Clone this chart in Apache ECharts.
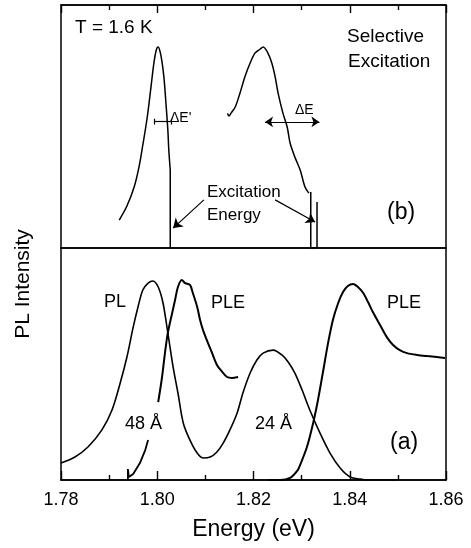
<!DOCTYPE html>
<html>
<head>
<meta charset="utf-8">
<title>PL / PLE selective excitation</title>
<script src="https://cdn.jsdelivr.net/npm/echarts@6.0.0/dist/echarts.min.js"></script>
<style>
  html, body { margin: 0; padding: 0; background: #fff; }
  #chart { width: 471px; height: 548px; }
</style>
</head>
<body>
<div id="chart"></div>
<script>
// tick labels on the energy axis
const tickLabels = ['1.78', '1.80', '1.82', '1.84', '1.86']

// (b) selective excitation - 48 A well
const selPL48E = [1.7921, 1.7937, 1.7952, 1.7962, 1.7970, 1.7979, 1.7987, 1.7993, 1.7998, 1.8002, 1.8006, 1.8010, 1.8014, 1.8018, 1.8022, 1.8024, 1.8027]
const selPL48I = [11.5, 17.3, 25.1, 33.3, 42.4, 53.5, 66.3, 76.1, 81.5, 82.7, 80.7, 76.5, 70.0, 59.7, 48.6, 40.3, 32.1]
const laser48E = [1.8027, 1.8027]
const laser48I = [32.1, 0]

// (b) selective excitation - 24 A well
const selPL24E = [1.8146, 1.8149, 1.8153, 1.8162, 1.8172, 1.8182, 1.8193, 1.8203, 1.8214, 1.8220, 1.8230, 1.8238, 1.8245, 1.8251, 1.8261, 1.8270, 1.8276, 1.8286, 1.8297, 1.8307, 1.8315]
const selPL24I = [55.4, 54.3, 55.4, 58.0, 63.8, 70.4, 76.1, 80.2, 81.9, 82.7, 80.2, 76.1, 70.4, 63.8, 55.6, 49.8, 43.2, 37.4, 32.1, 25.1, 22.6]
const laser24E = [1.8319, 1.8319, 1.8332, 1.8332]
const laser24I = [23.0, 0, 0, 18.9]

// (a) PL (both wells)
const plE = [1.7800, 1.7829, 1.7856, 1.7885, 1.7906, 1.7923, 1.7937, 1.7950, 1.7960, 1.7970, 1.7981, 1.7991, 1.8002, 1.8012, 1.8022, 1.8033, 1.8043, 1.8054, 1.8068, 1.8083, 1.8095, 1.8110, 1.8124, 1.8137, 1.8151, 1.8166, 1.8178, 1.8193, 1.8207, 1.8220, 1.8241, 1.8259, 1.8272, 1.8286, 1.8301, 1.8317, 1.8338, 1.8359, 1.8380, 1.8401, 1.8421, 1.8436, 1.8498]
const plI = [7.3, 9.9, 14.2, 21.6, 30.2, 41.8, 53.0, 65.9, 74.6, 81.9, 84.9, 85.8, 83.2, 76.3, 63.4, 48.7, 37.5, 24.6, 17.2, 11.6, 9.5, 9.9, 12.1, 15.9, 21.6, 28.9, 37.5, 46.1, 51.7, 54.7, 56.0, 53.9, 50.9, 46.1, 38.8, 30.2, 20.3, 11.6, 5.2, 1.3, 0.4, 0, 0]

// (a) PLE 48 A (interrupted under the label)
const ple48LowE = [1.7939, 1.7939, 1.7941, 1.7950, 1.7964, 1.7975, 1.7981]
const ple48LowI = [0, 4.7, 1.3, 2.6, 7.3, 12.9, 17.2]
const ple48HighE = [1.8002, 1.8010, 1.8016, 1.8022, 1.8031, 1.8037, 1.8043, 1.8051, 1.8058, 1.8068, 1.8074, 1.8083, 1.8089, 1.8095, 1.8103, 1.8114, 1.8124, 1.8135, 1.8145, 1.8155, 1.8168]
const ple48HighI = [33.6, 44.4, 54.7, 63.4, 72.0, 77.6, 83.2, 86.2, 84.9, 84.1, 80.6, 74.6, 69.0, 64.7, 60.3, 54.7, 49.6, 46.6, 44.4, 44.0, 44.4]

// (a) PLE 24 A
const ple24E = [1.8230, 1.8255, 1.8276, 1.8292, 1.8297, 1.8311, 1.8324, 1.8334, 1.8344, 1.8355, 1.8365, 1.8376, 1.8386, 1.8396, 1.8407, 1.8417, 1.8428, 1.8438, 1.8448, 1.8463, 1.8477, 1.8490, 1.8504, 1.8519, 1.8540, 1.8561, 1.8581, 1.8598]
const ple24I = [0, 0, 0.9, 4.3, 6.5, 14.2, 24.6, 34.5, 46.1, 59.1, 69.0, 76.3, 81.0, 83.6, 84.5, 83.2, 80.6, 76.7, 72.4, 66.8, 61.6, 58.2, 56.0, 54.7, 53.9, 53.4, 53.0, 52.6]

const FONT = '"Liberation Sans", Arial, Helvetica, sans-serif'
const zip = (xs, ys) => xs.map((x, i) => [x, ys[i]])

const chart = echarts.init(document.getElementById('chart'))

function curve(name, grid, xs, ys, width, smooth) {
  return {
    name: name,
    type: 'line',
    xAxisIndex: grid,
    yAxisIndex: grid,
    data: zip(xs, ys),
    showSymbol: false,
    symbol: 'none',
    smooth: smooth,
    animation: false,
    lineStyle: { color: '#000', width: width }
  }
}

function txt(text, x, y, size, align) {
  return {
    type: 'text',
    x: x,
    y: y,
    silent: true,
    style: {
      text: text,
      fill: '#000',
      font: size + 'px ' + FONT,
      textAlign: align || 'left',
      textVerticalAlign: 'middle'
    }
  }
}

const arrowLines = {
  silent: true,
  animation: false,
  symbol: ['none', 'none'],
  label: { show: false },
  lineStyle: { color: '#000', width: 1.2, type: 'solid' },
  data: [
    // Excitation Energy arrows
    [{ coord: [1.8097, 19.8] }, { coord: [1.8033, 8.2], symbol: 'arrow', symbolSize: 9 }],
    [{ coord: [1.8245, 19.8] }, { coord: [1.8328, 10.7], symbol: 'arrow', symbolSize: 9 }],
    // delta E double arrow
    [{ coord: [1.8224, 51.9], symbol: 'arrow', symbolSize: 8 }, { coord: [1.8337, 51.9], symbol: 'arrow', symbolSize: 8 }],
    // delta E' bar with caps
    [{ coord: [1.7994, 52.0] }, { coord: [1.8030, 52.0] }],
    [{ coord: [1.7994, 50.8] }, { coord: [1.7994, 53.2] }],
    [{ coord: [1.8030, 50.8] }, { coord: [1.8030, 53.2] }]
  ]
}

const topPL = curve('PL 48 sel', 0, selPL48E, selPL48I, 1.5, 0.3)
topPL.markLine = arrowLines

const tickLine = { color: '#000', width: 1.4 }

chart.setOption({
  backgroundColor: '#fff',
  grid: [
    { left: 61, top: 5, width: 385, height: 243, show: true, borderColor: '#000', borderWidth: 1.5 },
    { left: 61, top: 248, width: 385, height: 232, show: true, borderColor: '#000', borderWidth: 1.5 }
  ],
  xAxis: [
    {
      type: 'value', gridIndex: 0, position: 'top',
      min: 1.78, max: 1.86, interval: 0.02,
      axisLine: { show: true, onZero: false, lineStyle: { color: '#000', width: 1.5 } },
      axisLabel: { show: false },
      splitLine: { show: false },
      axisTick: { show: true, inside: true, length: 8, lineStyle: tickLine },
      minorTick: { show: true, splitNumber: 2, length: 5, lineStyle: tickLine }
    },
    {
      type: 'value', gridIndex: 1, position: 'bottom',
      min: 1.78, max: 1.86, interval: 0.02,
      axisLine: { show: true, onZero: false, lineStyle: { color: '#000', width: 1.5 } },
      splitLine: { show: false },
      axisTick: { show: true, inside: true, length: 9, lineStyle: tickLine },
      minorTick: { show: true, splitNumber: 2, length: 5, lineStyle: tickLine },
      axisLabel: {
        color: '#000', fontSize: 18, fontFamily: FONT, margin: 11,
        formatter: function (v) { return tickLabels[Math.round((v - 1.78) / 0.02)] }
      },
      name: 'Energy (eV)',
      nameLocation: 'middle',
      nameGap: 38,
      nameTextStyle: { color: '#000', fontSize: 23, fontFamily: FONT }
    }
  ],
  yAxis: [
    { type: 'value', gridIndex: 0, min: 0, max: 100, show: false },
    { type: 'value', gridIndex: 1, min: 0, max: 100, show: false }
  ],
  series: [
    topPL,
    curve('laser 48', 0, laser48E, laser48I, 1.5, false),
    curve('PL 24 sel', 0, selPL24E, selPL24I, 1.5, 0.3),
    curve('laser 24', 0, laser24E, laser24I, 1.5, false),
    curve('PL', 1, plE, plI, 1.6, 0.3),
    curve('PLE 48 low', 1, ple48LowE, ple48LowI, 1.8, false),
    curve('PLE 48', 1, ple48HighE, ple48HighI, 2, 0.3),
    curve('PLE 24', 1, ple24E, ple24I, 2, 0.3)
  ],
  graphic: [
    txt('T = 1.6 K', 75, 28, 19),
    txt('Selective', 347, 37, 19),
    txt('Excitation', 348, 62, 19),
    txt('(b)', 387, 213, 23),
    txt('\u0394E\'', 170, 118, 14),
    txt('\u0394E', 295, 110, 14),
    txt('Excitation', 207, 192, 17),
    txt('Energy', 207, 215, 17),
    txt('PL', 104, 302, 18),
    txt('PLE', 211, 303, 18),
    txt('PLE', 387, 303, 18),
    txt('48 \u00c5', 125, 424, 18),
    txt('24 \u00c5', 255, 424, 18),
    txt('(a)', 390, 443, 23),
    {
      type: 'text', x: 23, y: 284, rotation: Math.PI / 2, silent: true,
      style: {
        text: 'PL Intensity', fill: '#000', font: '21px ' + FONT,
        textAlign: 'center', textVerticalAlign: 'middle'
      }
    }
  ]
})
</script>
</body>
</html>
